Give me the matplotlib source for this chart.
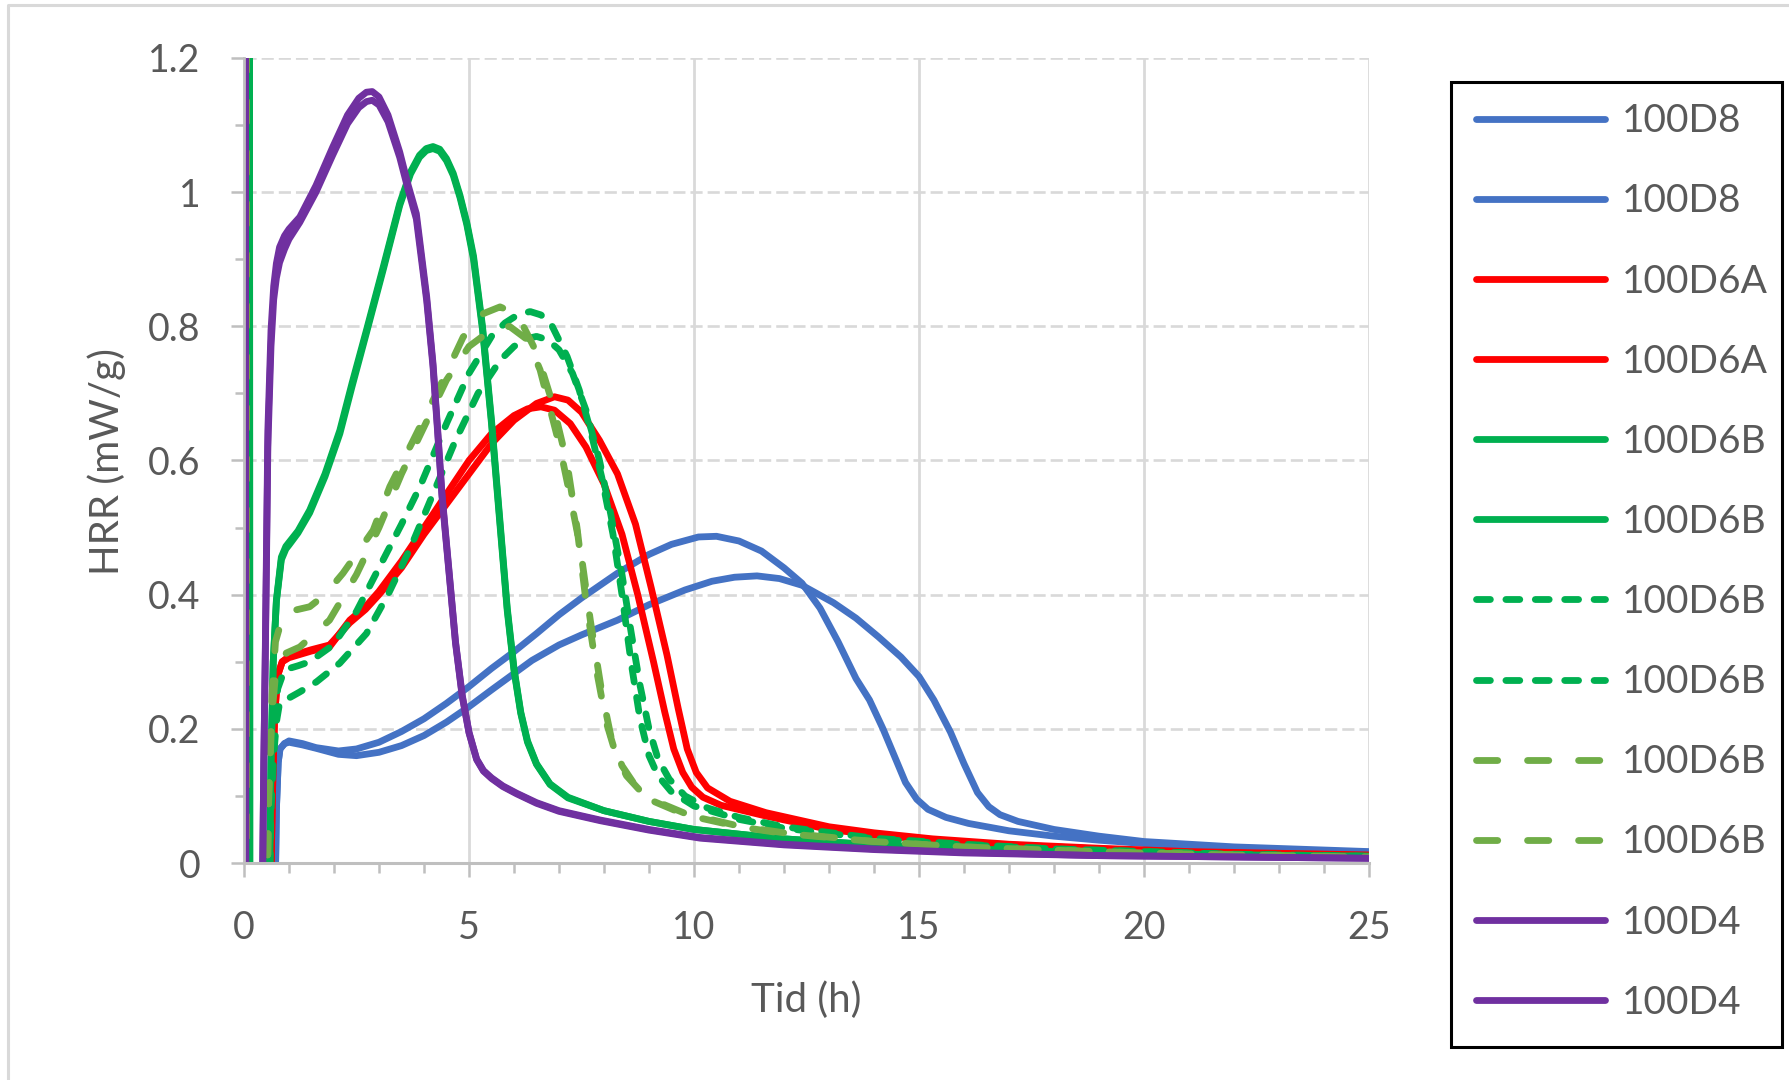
import numpy as np
import matplotlib
matplotlib.use("Agg")
import matplotlib.pyplot as plt
from matplotlib.lines import Line2D
from matplotlib.ticker import MultipleLocator, FuncFormatter

plt.rcParams['font.family'] = ['Lato', 'DejaVu Sans']

# HRR curves, time in hours, HRR in mW/g
t_d8a = [0.05, 0.06, 0.68, 0.72, 0.76, 0.8, 0.9, 1.0, 1.3, 1.6, 2.1, 2.5, 3.0, 3.5, 4.0, 4.5, 5.0, 5.5, 6.0, 6.5,
         7.0, 7.5, 8.3, 9.0, 9.5, 10.1, 10.5, 11.0, 11.5, 12.0, 12.4, 12.8, 13.2, 13.6, 13.9, 14.2, 14.45, 14.7,
         14.95, 15.2, 15.6, 16.1, 17.0, 18.0, 19.0, 20.0, 22.0, 25.0]
hrr_d8a = [2.0, -0.3, -0.1, 0.08, 0.15, 0.17, 0.178, 0.182, 0.178, 0.172, 0.167, 0.17, 0.18, 0.196, 0.215, 0.238,
           0.263, 0.29, 0.315, 0.342, 0.37, 0.395, 0.432, 0.46, 0.475, 0.486, 0.487, 0.48, 0.465, 0.44, 0.417,
           0.38, 0.33, 0.275, 0.243, 0.2, 0.16, 0.12, 0.095, 0.08, 0.068, 0.059, 0.048, 0.04, 0.034, 0.029, 0.022,
           0.016]

t_d8b = [0.05, 0.06, 0.68, 0.72, 0.76, 0.8, 0.9, 1.0, 1.3, 1.6, 2.1, 2.5, 3.0, 3.5, 4.0, 4.5, 5.0, 5.5, 6.4, 7.0,
         7.5, 8.3, 9.0, 9.8, 10.4, 10.9, 11.4, 11.9, 12.4, 13.1, 13.6, 14.1, 14.6, 15.0, 15.33, 15.7, 16.0, 16.3,
         16.55, 16.8, 17.2, 18.0, 19.0, 20.0, 22.0, 25.0]
hrr_d8b = [2.0, -0.3, -0.1, 0.08, 0.15, 0.17, 0.178, 0.18, 0.176, 0.171, 0.162, 0.16, 0.165, 0.175, 0.19, 0.21,
           0.233, 0.258, 0.302, 0.325, 0.34, 0.362, 0.385, 0.407, 0.42, 0.426, 0.428, 0.424, 0.414, 0.388, 0.365,
           0.337, 0.307, 0.278, 0.243, 0.195, 0.148, 0.105, 0.084, 0.072, 0.062, 0.05, 0.04, 0.032, 0.024, 0.017]

t_d6a_1 = [0.05, 0.06, 0.58, 0.63, 0.68, 0.75, 0.85, 1.0, 1.5, 1.9, 2.35, 2.7, 3.0, 3.5, 4.0, 4.5, 5.0, 5.5, 6.0,
           6.3, 6.6, 6.9, 7.25, 7.6, 8.0, 8.4, 8.75, 9.1, 9.35, 9.55, 9.75, 9.95, 10.2, 10.6, 11.6, 13.0, 14.0,
           15.3, 17.0, 19.0, 21.0, 25.0]
hrr_d6a_1 = [2.0, -0.3, -0.1, 0.1, 0.22, 0.28, 0.3, 0.306, 0.316, 0.322, 0.362, 0.382, 0.405, 0.45, 0.5, 0.55,
             0.6, 0.64, 0.667, 0.677, 0.68, 0.675, 0.655, 0.62, 0.565, 0.49, 0.4, 0.3, 0.225, 0.17, 0.135, 0.113,
             0.098, 0.086, 0.07, 0.05, 0.042, 0.034, 0.027, 0.021, 0.016, 0.011]

t_d6a_2 = [0.05, 0.06, 0.58, 0.63, 0.68, 0.75, 0.85, 1.0, 1.5, 1.9, 2.35, 2.7, 3.0, 3.5, 4.0, 4.5, 5.0, 5.5, 6.0,
           6.5, 6.9, 7.2, 7.5, 7.9, 8.3, 8.7, 9.05, 9.4, 9.65, 9.85, 10.05, 10.3, 10.8, 11.6, 13.0, 14.0, 15.3,
           17.0, 19.0, 21.0, 25.0]
hrr_d6a_2 = [2.0, -0.3, -0.1, 0.1, 0.22, 0.28, 0.3, 0.308, 0.318, 0.325, 0.358, 0.378, 0.4, 0.44, 0.49, 0.535,
             0.58, 0.625, 0.66, 0.685, 0.695, 0.69, 0.672, 0.63, 0.58, 0.505, 0.41, 0.31, 0.23, 0.17, 0.135, 0.112,
             0.092, 0.075, 0.054, 0.045, 0.036, 0.028, 0.022, 0.017, 0.012]

t_d6b_1 = [0.12, 0.13, 0.55, 0.6, 0.65, 0.72, 0.83, 0.93, 1.0, 1.2, 1.46, 1.8, 2.13, 2.4, 2.72, 3.1, 3.46, 3.7,
           3.9, 4.05, 4.2, 4.35, 4.5, 4.65, 4.8, 4.95, 5.1, 5.3, 5.5, 5.7, 5.85, 6.0, 6.15, 6.3, 6.5, 6.8, 7.2,
           8.0, 9.0, 10.0, 12.0, 14.0, 16.0, 18.0, 20.0, 22.0, 25.0]
hrr_d6b_1 = [2.0, -0.3, -0.1, 0.15, 0.3, 0.392, 0.456, 0.472, 0.478, 0.495, 0.526, 0.58, 0.645, 0.715, 0.794,
             0.89, 0.983, 1.03, 1.055, 1.065, 1.068, 1.064, 1.05, 1.028, 0.995, 0.955, 0.905, 0.8, 0.66, 0.5,
             0.38, 0.29, 0.225, 0.182, 0.148, 0.118, 0.098, 0.078, 0.062, 0.05, 0.036, 0.027, 0.021, 0.017, 0.014,
             0.012, 0.01]

t_d6b_2 = [0.12, 0.13, 0.55, 0.6, 0.65, 0.72, 0.83, 0.93, 1.0, 1.2, 1.46, 1.8, 2.13, 2.4, 2.72, 3.1, 3.46, 3.7,
           3.9, 4.05, 4.2, 4.35, 4.5, 4.65, 4.8, 4.95, 5.1, 5.3, 5.5, 5.7, 5.85, 6.0, 6.15, 6.3, 6.5, 6.8, 7.2,
           8.0, 9.0, 10.0, 12.0, 14.0, 16.0, 18.0, 20.0, 22.0, 25.0]
hrr_d6b_2 = [2.0, -0.3, -0.1, 0.15, 0.3, 0.39, 0.452, 0.468, 0.474, 0.492, 0.522, 0.576, 0.64, 0.71, 0.79,
             0.886, 0.98, 1.027, 1.052, 1.062, 1.065, 1.061, 1.047, 1.025, 0.992, 0.952, 0.9, 0.795, 0.655, 0.495,
             0.376, 0.287, 0.223, 0.18, 0.147, 0.117, 0.097, 0.078, 0.062, 0.05, 0.036, 0.027, 0.021, 0.017,
             0.014, 0.012, 0.01]

t_dash_1 = [0.05, 0.06, 0.55, 0.6, 0.66, 0.75, 0.9, 1.2, 1.46, 1.98, 2.5, 3.0, 3.5, 3.91, 4.5, 5.0, 5.5, 5.8,
            6.1, 6.36, 6.6, 6.85, 7.18, 7.45, 7.7, 7.95, 8.2, 8.4, 8.6, 8.8, 9.0, 9.2, 9.5, 10.0, 11.0, 12.0, 14.0,
            16.0, 18.0, 20.0, 22.0, 25.0]
hrr_dash_1 = [2.0, -0.3, -0.1, 0.1, 0.2, 0.26, 0.288, 0.294, 0.3, 0.325, 0.375, 0.44, 0.505, 0.561, 0.655, 0.73,
              0.785, 0.805, 0.818, 0.822, 0.817, 0.8, 0.755, 0.705, 0.645, 0.575, 0.49, 0.4, 0.3, 0.215, 0.16,
              0.13, 0.106, 0.085, 0.065, 0.052, 0.036, 0.027, 0.021, 0.017, 0.013, 0.01]

t_dash_2 = [0.05, 0.06, 0.55, 0.6, 0.66, 0.72, 0.79, 1.24, 1.61, 2.13, 2.72, 3.2, 3.7, 4.2, 4.7, 5.2, 5.7, 6.0,
            6.25, 6.5, 6.75, 7.0, 7.3, 7.6, 7.9, 8.15, 8.4, 8.6, 8.8, 9.0, 9.2, 9.45, 9.8, 10.3, 11.0, 12.0, 14.0,
            16.0, 18.0, 20.0, 22.0, 25.0]
hrr_dash_2 = [2.0, -0.3, -0.1, 0.08, 0.16, 0.21, 0.238, 0.255, 0.27, 0.298, 0.342, 0.4, 0.47, 0.55, 0.63, 0.7,
              0.75, 0.77, 0.781, 0.785, 0.78, 0.765, 0.73, 0.675, 0.6, 0.52, 0.43, 0.345, 0.265, 0.2, 0.155, 0.125,
              0.1, 0.082, 0.068, 0.054, 0.037, 0.028, 0.021, 0.017, 0.013, 0.01]

t_ldash_1 = [0.05, 0.06, 0.5, 0.55, 0.62, 0.7, 0.85, 1.01, 1.46, 1.8, 2.2, 2.87, 3.24, 3.76, 4.35, 4.87, 5.32,
             5.69, 6.0, 6.21, 6.51, 6.88, 7.18, 7.4, 7.6, 7.84, 8.05, 8.25, 8.5, 8.8, 9.3, 9.8, 11.0, 12.0, 14.0,
             16.0, 18.0, 20.0, 22.0, 25.0]
hrr_ldash_1 = [2.0, -0.3, -0.1, 0.1, 0.25, 0.33, 0.365, 0.375, 0.382, 0.4, 0.432, 0.496, 0.561, 0.63, 0.71,
               0.784, 0.819, 0.829, 0.82, 0.8, 0.76, 0.68, 0.596, 0.5, 0.39, 0.285, 0.21, 0.165, 0.13, 0.108,
               0.088, 0.074, 0.055, 0.045, 0.032, 0.024, 0.019, 0.015, 0.012, 0.009]

t_ldash_2 = [0.05, 0.06, 0.5, 0.55, 0.62, 0.7, 0.94, 1.24, 1.9, 2.5, 3.0, 3.5, 4.0, 4.5, 5.0, 5.5, 5.9, 6.3,
             6.58, 7.02, 7.25, 7.47, 7.7, 7.95, 8.15, 8.4, 8.7, 9.1, 9.8, 11.0, 12.0, 14.0, 16.0, 18.0, 20.0, 22.0,
             25.0]
hrr_ldash_2 = [2.0, -0.3, -0.1, 0.1, 0.22, 0.28, 0.313, 0.322, 0.362, 0.43, 0.5, 0.58, 0.65, 0.72, 0.77, 0.795,
               0.8, 0.78, 0.735, 0.62, 0.546, 0.471, 0.36, 0.255, 0.19, 0.145, 0.115, 0.092, 0.072, 0.054, 0.044,
               0.032, 0.024, 0.019, 0.015, 0.012, 0.009]

t_d4a = [0.03, 0.04, 0.4, 0.44, 0.47, 0.5, 0.53, 0.6, 0.66, 0.72, 0.79, 0.9, 1.0, 1.24, 1.6, 1.97, 2.3, 2.55,
         2.72, 2.85, 3.0, 3.2, 3.46, 3.65, 3.83, 4.06, 4.2, 4.3, 4.4, 4.55, 4.7, 4.85, 5.0, 5.17, 5.32, 5.5, 5.75,
         6.06, 6.5, 7.0, 7.92, 9.0, 10.14, 12.0, 14.0, 16.0, 19.0, 22.0, 25.0]
hrr_d4a = [2.0, -0.3, -0.1, 0.15, 0.3, 0.47, 0.645, 0.794, 0.86, 0.894, 0.918, 0.935, 0.945, 0.963, 1.01, 1.067,
           1.115, 1.14, 1.149, 1.15, 1.142, 1.115, 1.06, 1.01, 0.968, 0.844, 0.745, 0.65, 0.55, 0.44, 0.33, 0.25,
           0.195, 0.155, 0.138, 0.127, 0.115, 0.104, 0.09, 0.078, 0.064, 0.05, 0.038, 0.028, 0.021, 0.016, 0.011,
           0.009, 0.007]

t_d4b = [0.03, 0.04, 0.4, 0.44, 0.47, 0.5, 0.53, 0.6, 0.66, 0.72, 0.79, 0.9, 1.0, 1.24, 1.6, 1.97, 2.3, 2.55,
         2.72, 2.85, 3.0, 3.2, 3.46, 3.65, 3.83, 4.06, 4.2, 4.3, 4.4, 4.55, 4.7, 4.85, 5.0, 5.17, 5.32, 5.5, 5.75,
         6.06, 6.5, 7.0, 7.92, 9.0, 10.14, 12.0, 14.0, 16.0, 19.0, 22.0, 25.0]
hrr_d4b = [2.0, -0.3, -0.1, 0.15, 0.29, 0.45, 0.62, 0.77, 0.84, 0.872, 0.895, 0.915, 0.93, 0.955, 1.0, 1.055,
           1.102, 1.126, 1.135, 1.137, 1.13, 1.105, 1.052, 1.003, 0.96, 0.838, 0.74, 0.645, 0.546, 0.437, 0.328,
           0.248, 0.194, 0.154, 0.137, 0.126, 0.114, 0.103, 0.089, 0.077, 0.063, 0.049, 0.037, 0.027, 0.02, 0.015,
           0.011, 0.009, 0.007]

blue = '#4472C4'
red = '#FF0000'
green = '#00B050'
lgreen = '#70AD47'
purple = '#7030A0'
grey_txt = '#595959'
grey_ax = '#BFBFBF'
grey_grid = '#D9D9D9'

lw = 4.9
dash_s = (0, (2.04, 2.28))
dash_l = (0, (3.12, 4.38))

series = [
    (t_d8a, hrr_d8a, blue, '-', '100D8'),
    (t_d8b, hrr_d8b, blue, '-', '100D8'),
    (t_d6a_1, hrr_d6a_1, red, '-', '100D6A'),
    (t_d6a_2, hrr_d6a_2, red, '-', '100D6A'),
    (t_d6b_1, hrr_d6b_1, green, '-', '100D6B'),
    (t_d6b_2, hrr_d6b_2, green, '-', '100D6B'),
    (t_dash_1, hrr_dash_1, green, dash_s, '100D6B'),
    (t_dash_2, hrr_dash_2, green, dash_s, '100D6B'),
    (t_ldash_1, hrr_ldash_1, lgreen, dash_l, '100D6B'),
    (t_ldash_2, hrr_ldash_2, lgreen, dash_l, '100D6B'),
    (t_d4a, hrr_d4a, purple, '-', '100D4'),
    (t_d4b, hrr_d4b, purple, '-', '100D4'),
]

fig = plt.figure(figsize=(17.9, 10.8), dpi=100)
ax = fig.add_axes([244 / 1790, 1 - 863 / 1080, 1125 / 1790, 805 / 1080])

for t, h, c, ls, lab in series:
    ax.plot(t, h, color=c, linestyle=ls, linewidth=lw, label=lab,
            solid_capstyle='round', dash_capstyle='round', solid_joinstyle='round',
            dash_joinstyle='round')

ax.set_xlim(0, 25)
ax.set_ylim(0, 1.2)
ax.xaxis.set_major_locator(MultipleLocator(5))
ax.xaxis.set_minor_locator(MultipleLocator(1))
ax.yaxis.set_major_locator(MultipleLocator(0.2))
ax.yaxis.set_minor_locator(MultipleLocator(0.1))
ax.yaxis.set_major_formatter(FuncFormatter(lambda v, p: '%g' % round(v, 1)))

ax.set_axisbelow(True)
ax.grid(True, axis='y', which='major', color=grey_grid, linewidth=1.9, linestyle=(0, (4.6, 1.9)))
ax.grid(True, axis='x', which='major', color=grey_grid, linewidth=2.0, linestyle='-')

for s in ['top', 'right']:
    ax.spines[s].set_visible(False)
ax.spines['bottom'].set_color(grey_ax)
ax.spines['bottom'].set_linewidth(2.2)
ax.spines['left'].set_color(grey_ax)
ax.spines['left'].set_linewidth(2.0)

ax.tick_params(axis='x', which='major', length=10, width=1.8, color=grey_ax, labelsize=27,
               labelcolor=grey_txt, pad=24)
ax.tick_params(axis='x', which='minor', length=7, width=1.8, color=grey_ax)
ax.tick_params(axis='y', which='major', length=9.5, width=1.8, color=grey_ax, labelsize=27,
               labelcolor=grey_txt, pad=22)
ax.tick_params(axis='y', which='minor', length=6.5, width=1.8, color=grey_ax)

fig.text(806 / 1790, 1 - 1000 / 1080, 'Tid (h)', ha='center', va='center', fontsize=29, color=grey_txt)
fig.text(107 / 1790, 1 - 462 / 1080, 'HRR (mW/g)', ha='center', va='center', rotation=90,
         fontsize=29, color=grey_txt)

# legend: frame drawn separately so the box can sit where it should
leg = ax.legend(loc='center left', bbox_to_anchor=(1476 / 1790, 1 - 562 / 1080),
                bbox_transform=fig.transFigure, frameon=False, fontsize=28, labelcolor=grey_txt,
                handlelength=3.32, handletextpad=0.44, labelspacing=1.135, borderpad=0,
                borderaxespad=0)
fig.patches.append(plt.Rectangle((1451 / 1790, 1 - 1047 / 1080), 331 / 1790, 965 / 1080,
                                 transform=fig.transFigure, fill=False, edgecolor='black',
                                 linewidth=2.2, zorder=5))

# outer chart border
fig.lines.append(Line2D([8 / 1790, 8 / 1790, 1.0], [0.0, 1 - 5 / 1080, 1 - 5 / 1080],
                        transform=fig.transFigure, color=grey_grid, linewidth=2.2))

fig.savefig('out.png', dpi=100)
